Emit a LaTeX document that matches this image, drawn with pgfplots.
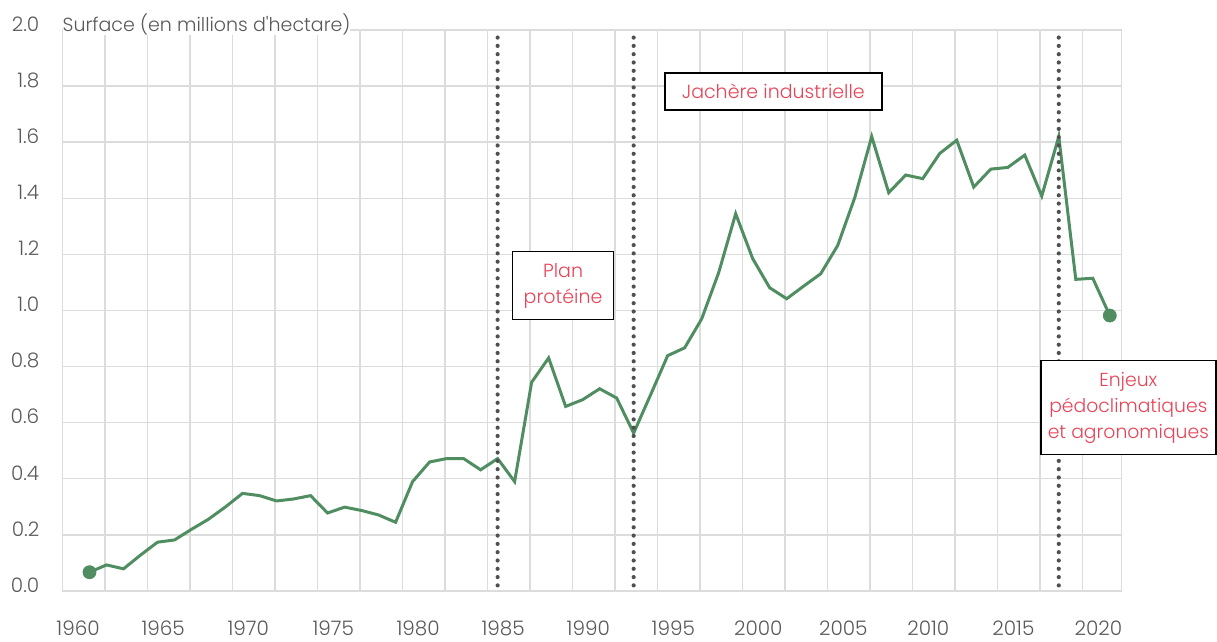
\documentclass[border=0pt]{standalone}
\usepackage{fontspec}
\setmainfont{Poppins Light}
\newfontfamily\titlefont{Poppins Light}[Ligatures=TeXOff]
\usepackage{pgfplots}
\usepackage{pgfplotstable}
\pgfplotsset{compat=1.18}
\newlength\px
\setlength\px{0.5pt}
\definecolor{lgreen}{RGB}{80,142,98}
\definecolor{gridc}{RGB}{220,220,220}
\definecolor{txtgray}{RGB}{89,89,89}
\definecolor{annred}{RGB}{232,68,88}
\definecolor{dotc}{RGB}{80,80,80}
\pgfplotstableread{
year val
1961 0.067
1962 0.093
1963 0.079
1964 0.128
1965 0.174
1966 0.182
1967 0.220
1968 0.256
1969 0.300
1970 0.348
1971 0.340
1972 0.321
1973 0.328
1974 0.340
1975 0.278
1976 0.299
1977 0.287
1978 0.271
1979 0.245
1980 0.390
1981 0.460
1982 0.472
1983 0.472
1984 0.432
1985 0.472
1986 0.390
1987 0.744
1988 0.831
1989 0.658
1990 0.682
1991 0.721
1992 0.688
1993 0.563
1994 0.700
1995 0.839
1996 0.867
1997 0.970
1998 1.135
1999 1.345
2000 1.185
2001 1.081
2002 1.042
2003 1.087
2004 1.131
2005 1.232
2006 1.402
2007 1.620
2008 1.420
2009 1.483
2010 1.470
2011 1.560
2012 1.607
2013 1.440
2014 1.504
2015 1.510
2016 1.554
2017 1.408
2018 1.620
2019 1.111
2020 1.115
2021 0.982
}\datatable
\pgfplotstableread{
year val
1961 0.067
2021 0.982
}\endpoints
\begin{document}
\begin{tikzpicture}
\begin{axis}[
  scale only axis,
  width=1059.4\px, height=561\px,
  xmin=1959.4, xmax=2021.7,
  ymin=0, ymax=2.0,
  clip=false,
  axis line style={draw=none},
  xtick={1959.4,1961.9,1964.4,1966.9,1969.4,1971.9,1974.4,1976.9,1979.4,1981.9,1984.4,1986.9,1989.4,1991.9,1994.4,1996.9,1999.4,2001.9,2004.4,2006.9,2009.4,2011.9,2014.4,2016.9,2019.4,2021.7},
  xticklabels={},
  extra x ticks={1960.33,1965.33,1970.33,1975.33,1980.33,1985.33,1990.33,1995.33,2000.33,2005.33,2010.33,2015.33,2020.33},
  extra x tick labels={1960,1965,1970,1975,1980,1985,1990,1995,2000,2005,2010,2015,2020},
  extra x tick style={grid=none, major tick length=0pt,
    xticklabel style={anchor=center, yshift=-37\px}},
  ytick={0,0.2,...,2.0},
  y tick label style={/pgf/number format/fixed, /pgf/number format/fixed zerofill, /pgf/number format/precision=1},
  yticklabel style={anchor=east, xshift=-16\px, yshift=6\px},
  /pgf/number format/assume math mode=true,
  tick label style={font=\fontsize{10}{12}\selectfont, text=txtgray},
  major tick length=0pt,
  grid=major,
  major grid style={draw=gridc, line width=1.4\px},
]
\coordinate (O) at (rel axis cs:0,0);
\addplot[lgreen, line width=3\px, mark=none] table[x=year,y=val] {\datatable};
\addplot[only marks, mark=*, mark size=6.5\px, lgreen, mark options={draw=lgreen, fill=lgreen}] table[x=year,y=val] {\endpoints};
\addplot[dotc, line width=4.2\px, line cap=round, dash pattern=on 0pt off 8.3\px] coordinates {(1985,0.02) (1985,1.986)};
\addplot[dotc, line width=4.2\px, line cap=round, dash pattern=on 0pt off 8.3\px] coordinates {(1993,0.02) (1993,1.986)};
\addplot[dotc, line width=4.2\px, line cap=round, dash pattern=on 0pt off 8.3\px] coordinates {(2018,0.02) (2018,1.99)};
\node[anchor=west, fill=white, inner sep=0pt, text=txtgray, font=\titlefont\fontsize{9.5}{12}\selectfont, yshift=6\px, minimum height=17\px] at (rel axis cs:0,1) {Surface (en millions d'hectare)};
\node[draw=black, line width=1.5\px, fill=white, text=annred, align=center, font=\fontsize{9.5}{13}\selectfont, minimum width=101\px, minimum height=68\px, inner sep=0pt] at (axis cs:1988.85,1.089) {Plan\\protéine};
\node[draw=black, line width=1.5\px, fill=white, text=annred, align=center, font=\fontsize{9.5}{13}\selectfont, minimum width=217\px, minimum height=37\px, inner sep=0pt] at (axis cs:2001.21,1.780) {Jachère industrielle};
\node[draw=black, line width=1.5\px, fill=white, text=annred, align=center, font=\fontsize{9.4}{13}\selectfont, minimum width=175\px, minimum height=94\px, inner sep=0pt] at (axis cs:2022.09,0.654) {Enjeux\\pédoclimatiques\\et agronomiques};
\end{axis}
\pgfresetboundingbox
\useasboundingbox ([shift={(-62.3\px,-51\px)}]O) rectangle ([shift={(1154.7\px,591\px)}]O);
\end{tikzpicture}
\end{document}
